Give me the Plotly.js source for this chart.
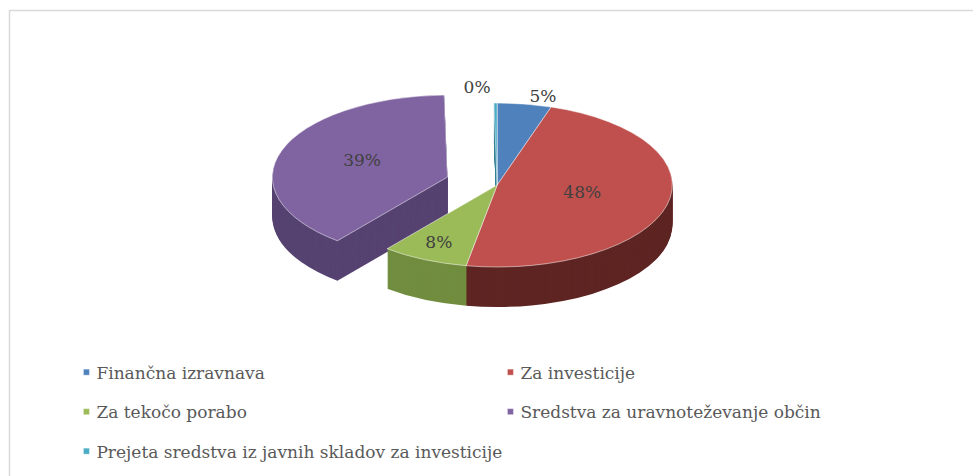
<!DOCTYPE html>
<html><head><meta charset="utf-8">
<script src="https://cdn.plot.ly/plotly-3.0.1.min.js"></script>
<style>body{margin:0;background:#fff} #chart{width:973px;height:476px}</style>
</head><body><div id="chart"></div>
<script>
const labels = ["Finančna izravnava", "Za investicije", "Za tekočo porabo", "Sredstva za uravnoteževanje občin", "Prejeta sredstva iz javnih skladov za investicije"];
const shares = [5, 48, 8, 39, 0.3];
const topColors = ["#4f81bd", "#c0504d", "#9bbb59", "#8064a2", "#4bacc6"];
const sideColors = ["#3b618e", "#5e2523", "#718d3f", "#564371", "#358196"];
const pulls = [0, 0, 0, 0.3, 0];
const textPositions = ["outside", "inside", "inside", "inside", "outside"];

const SERIF = "DejaVu Serif";
const N = 40;            // layers used to draw the pie's thickness
const common = {
  type: "pie", labels: labels, values: shares, sort: false, direction: "clockwise",
  rotation: 0, pull: pulls, domain: {x: [0.277, 0.745], y: [0.02, 0.98]}
};
const data = [];
for (let i = 0; i < N; i++) {
  data.push(Object.assign({}, common, {
    marker: {colors: sideColors, line: {width: 0}},
    textinfo: "none", hoverinfo: "skip", showlegend: false
  }));
}
data.push(Object.assign({}, common, {
  marker: {colors: topColors, line: {color: "rgba(255,255,255,0.7)", width: 1}},
  texttemplate: "%{percent:.0%}", textposition: textPositions,
  insidetextorientation: "horizontal",
  textfont: {family: SERIF, size: 17, color: "#404040"},
  outsidetextfont: {family: SERIF, size: 17, color: "#404040"},
  showlegend: true
}));

const layout = {
  width: 973, height: 476, margin: {l: 0, r: 0, t: 0, b: 0},
  paper_bgcolor: "#ffffff", showlegend: true,
  font: {family: SERIF},
  legend: {
    orientation: "h", x: 0.058, xanchor: "left", y: 0.255, yanchor: "top",
    entrywidth: 379, entrywidthmode: "pixels", traceorder: "normal",
    font: {family: SERIF, size: 17, color: "#595959"}
  },
  shapes: [{type: "rect", xref: "paper", yref: "paper", x0: 9.5 / 973, x1: 1.05,
            y0: -0.1, y1: 1 - 10.5 / 476, line: {color: "#d9d9d9", width: 1.5}}]
};

const gd = document.getElementById("chart");
Plotly.newPlot(gd, data, layout, {displayModeBar: false, staticPlot: true}).then(() => {
  const cd0 = gd.calcdata[gd.calcdata.length - 1][0];
  const R = cd0.r, cy = cd0.cy;
  const targetCy = 185, targetRy = 82, depth = 40;
  const k = targetRy / R;
  const re = /translate\(\s*([-\d.e]+)[ ,]\s*([-\d.e]+)\s*\)/;
  const groups = gd.querySelectorAll(".pielayer g.trace");
  groups.forEach((g, i) => {
    const off = i < N ? depth * (N - i) / N : 0;
    const T = targetCy - k * cy + off;
    g.querySelectorAll("path.surface").forEach(p =>
      p.setAttribute("transform", `matrix(1,0,0,${k},0,${T})`));
    g.querySelectorAll("path.textline").forEach(p => p.style.display = "none");
    g.querySelectorAll("g.slicetext text").forEach(t => {
      const tr = t.getAttribute("transform") || "";
      const m = tr.match(re);
      if (m) {
        const nx = parseFloat(m[1]), ny = k * parseFloat(m[2]) + T;
        t.setAttribute("transform", tr.replace(re, `translate(${nx},${ny})`));
      }
    });
  });
  const items = [...gd.querySelectorAll(".legend g.traces")];
  const pos = items.map(it => {
    const m = (it.getAttribute("transform") || "").match(re);
    return m ? {x: parseFloat(m[1]), y: parseFloat(m[2])} : {x: 0, y: 0};
  });
  const ys = [...new Set(pos.map(p => p.y))].sort((a, b) => a - b);
  items.forEach((it, j) => {
    const r = ys.indexOf(pos[j].y);
    it.setAttribute("transform", `translate(${pos[j].x},${ys[0] + r * 39.5})`);
    it.querySelectorAll(".legendpoints path").forEach(p =>
      p.setAttribute("transform", "translate(30,0) scale(0.5)"));
  });
  gd.querySelectorAll(".legend [clip-path]").forEach(el => el.removeAttribute("clip-path"));
  gd.querySelectorAll(".legend rect.bg").forEach(el => el.style.display = "none");
});
</script>
</body></html>
